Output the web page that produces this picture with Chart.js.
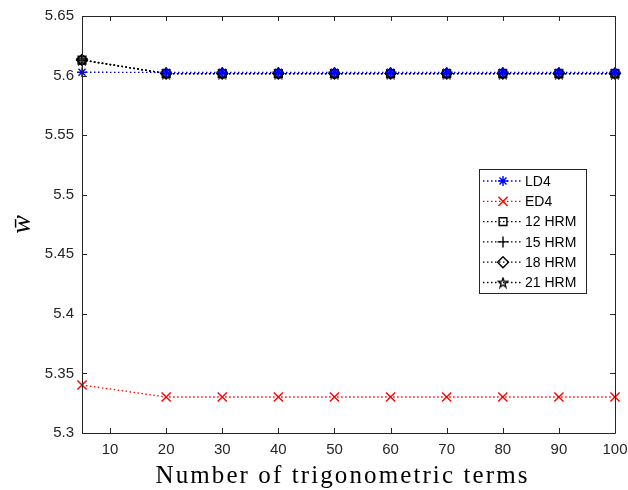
<!DOCTYPE html>
<html>
<head>
<meta charset="utf-8">
<script src="https://cdn.jsdelivr.net/npm/chart.js@4"></script>
<style>
  html, body { margin: 0; padding: 0; background: #fff; }
</style>
</head>
<body>
<canvas id="chart" width="628" height="490"></canvas>
<script>
// values
const terms = [5, 20, 30, 40, 50, 60, 70, 80, 90, 100];
const ld4   = [5.6028, 5.6027, 5.6027, 5.6027, 5.6027, 5.6027, 5.6027, 5.6027, 5.6027, 5.6027];
const ed4   = [5.3403, 5.3302, 5.3302, 5.3302, 5.3302, 5.3302, 5.3302, 5.3302, 5.3302, 5.3302];
const hrm12 = [5.6129, 5.6017, 5.6017, 5.6017, 5.6017, 5.6017, 5.6017, 5.6017, 5.6017, 5.6017];
const hrm15 = [5.6130, 5.6017, 5.6017, 5.6017, 5.6017, 5.6017, 5.6017, 5.6017, 5.6017, 5.6017];
const hrm18 = [5.6131, 5.6017, 5.6017, 5.6017, 5.6017, 5.6017, 5.6017, 5.6017, 5.6017, 5.6017];
const hrm21 = [5.6132, 5.6017, 5.6017, 5.6017, 5.6017, 5.6017, 5.6017, 5.6017, 5.6017, 5.6017];
const xTicks = [10, 20, 30, 40, 50, 60, 70, 80, 90, 100];
const yTicks = [5.3, 5.35, 5.4, 5.45, 5.5, 5.55, 5.6, 5.65];
const xTitle = 'Number of trigonometric terms';

const AXIS = '#262626';
const SANS = '"Liberation Sans", Arial, sans-serif';
const SERIF = '"Liberation Serif", "Times New Roman", serif';

// open five-point star marker (no such style built in)
function pentagram(size) {
  const c = document.createElement('canvas');
  c.width = size; c.height = size;
  const g = c.getContext('2d');
  const cx = size / 2, cy = size / 2 + 0.5, R = size / 2 - 1, r = R * 0.4;
  g.beginPath();
  for (let i = 0; i < 10; i++) {
    const ang = -Math.PI / 2 + i * Math.PI / 5;
    const rad = i % 2 ? r : R;
    g.lineTo(cx + rad * Math.cos(ang), cy + rad * Math.sin(ang));
  }
  g.closePath();
  g.strokeStyle = '#000';
  g.lineWidth = 1.3;
  g.stroke();
  return c;
}

function series(label, values, color, style, radius) {
  return {
    label: label,
    data: terms.map((t, i) => ({ x: t, y: values[i] })),
    borderColor: color,
    backgroundColor: 'rgba(0,0,0,0)',
    pointBorderColor: color,
    pointBackgroundColor: 'rgba(0,0,0,0)',
    borderWidth: 1.3,
    borderDash: [1.5, 2.5],
    pointStyle: style,
    pointRadius: radius,
    pointBorderWidth: 1.4,
    clip: false
  };
}

// box round the plot with inward ticks, matlab style
const matlabAxes = {
  id: 'matlabAxes',
  afterDatasetsDraw(chart) {
    const { ctx, chartArea: a, scales: { x, y } } = chart;
    ctx.save();
    ctx.strokeStyle = AXIS;
    ctx.lineWidth = 1;
    ctx.beginPath();
    ctx.rect(Math.round(a.left) + 0.5, Math.round(a.top) + 0.5,
             Math.round(a.right - a.left), Math.round(a.bottom - a.top));
    x.ticks.forEach(t => {
      const px = Math.round(x.getPixelForValue(t.value)) + 0.5;
      ctx.moveTo(px, a.bottom); ctx.lineTo(px, a.bottom - 5);
      ctx.moveTo(px, a.top); ctx.lineTo(px, a.top + 5);
    });
    y.ticks.forEach(t => {
      const py = Math.round(y.getPixelForValue(t.value)) + 0.5;
      ctx.moveTo(a.left, py); ctx.lineTo(a.left + 5, py);
      ctx.moveTo(a.right, py); ctx.lineTo(a.right - 5, py);
    });
    ctx.stroke();

    // x axis title, wide serif like the latex font
    ctx.fillStyle = '#000';
    ctx.font = '25px ' + SERIF;
    ctx.letterSpacing = '2.1px';
    ctx.textAlign = 'center';
    ctx.textBaseline = 'alphabetic';
    ctx.fillText(xTitle, (a.left + a.right) / 2 - 6, a.bottom + 50);
    ctx.restore();
  }
};

// legend box inside the plot, line + marker per entry
const boxLegend = {
  id: 'boxLegend',
  afterDraw(chart) {
    const { ctx, chartArea: a } = chart;
    const left = a.right - 136, top = a.top + 153, w = 107, h = 124;
    ctx.save();
    ctx.fillStyle = '#fff';
    ctx.fillRect(left, top, w, h);
    ctx.strokeStyle = AXIS;
    ctx.lineWidth = 1;
    ctx.strokeRect(left + 0.5, top + 0.5, w, h);
    ctx.font = '14px ' + SANS;
    ctx.textBaseline = 'middle';
    chart.data.datasets.forEach((ds, i) => {
      const yy = top + 12 + i * 20.3;
      ctx.strokeStyle = ds.borderColor;
      ctx.lineWidth = 1.3;
      ctx.setLineDash(ds.borderDash);
      ctx.beginPath();
      ctx.moveTo(left + 4, yy);
      ctx.lineTo(left + 42, yy);
      ctx.stroke();
      ctx.setLineDash([]);
      ctx.strokeStyle = ds.pointBorderColor;
      ctx.fillStyle = 'rgba(0,0,0,0)';
      ctx.lineWidth = ds.pointBorderWidth;
      Chart.helpers.drawPoint(ctx, {
        pointStyle: ds.pointStyle, radius: ds.pointRadius, rotation: 0, borderWidth: ds.pointBorderWidth
      }, left + 24, yy);
      ctx.fillStyle = '#000';
      ctx.fillText(ds.label, left + 46, yy + 1);
    });
    ctx.restore();
  }
};

const ctx = document.getElementById('chart').getContext('2d');
new Chart(ctx, {
  type: 'line',
  data: {
    datasets: [
      series('LD4', ld4, '#0000ff', 'star', 5),
      series('ED4', ed4, '#ff0000', 'crossRot', 6.5),
      series('12 HRM', hrm12, '#000000', 'rect', 5.5),
      series('15 HRM', hrm15, '#000000', 'cross', 5.5),
      series('18 HRM', hrm18, '#000000', 'rectRot', 5.5),
      series('21 HRM', hrm21, '#000000', pentagram(12), 6)
    ]
  },
  options: {
    responsive: false,
    animation: false,
    devicePixelRatio: 1,
    layout: { padding: { left: 0, right: 13, top: 16, bottom: 0 } },
    plugins: { legend: { display: false }, tooltip: { enabled: false } },
    scales: {
      x: {
        type: 'linear',
        min: 5,
        max: 100,
        afterBuildTicks: s => { s.ticks = xTicks.map(v => ({ value: v })); },
        afterFit: s => { s.height = 57; s.paddingLeft = 0; s.paddingRight = 0; },
        grid: { display: false, drawTicks: false },
        border: { display: false },
        ticks: { color: AXIS, font: { family: SANS, size: 15 }, padding: 8, maxRotation: 0 }
      },
      y: {
        min: 5.3,
        max: 5.65,
        afterBuildTicks: s => { s.ticks = yTicks.map(v => ({ value: v })); },
        afterFit: s => { s.width = 82; s.paddingTop = 0; s.paddingBottom = 0; },
        grid: { display: false, drawTicks: false },
        border: { display: false },
        ticks: {
          color: AXIS, font: { family: SANS, size: 15 }, padding: 8,
          callback: v => String(+Number(v).toFixed(2))
        },
        title: {
          display: true,
          text: 'w\u0304',
          color: '#000',
          font: { family: SERIF, size: 28, style: 'italic' },
          padding: { top: 6, bottom: 0 }
        }
      }
    }
  },
  plugins: [matlabAxes, boxLegend]
});
</script>
</body>
</html>
